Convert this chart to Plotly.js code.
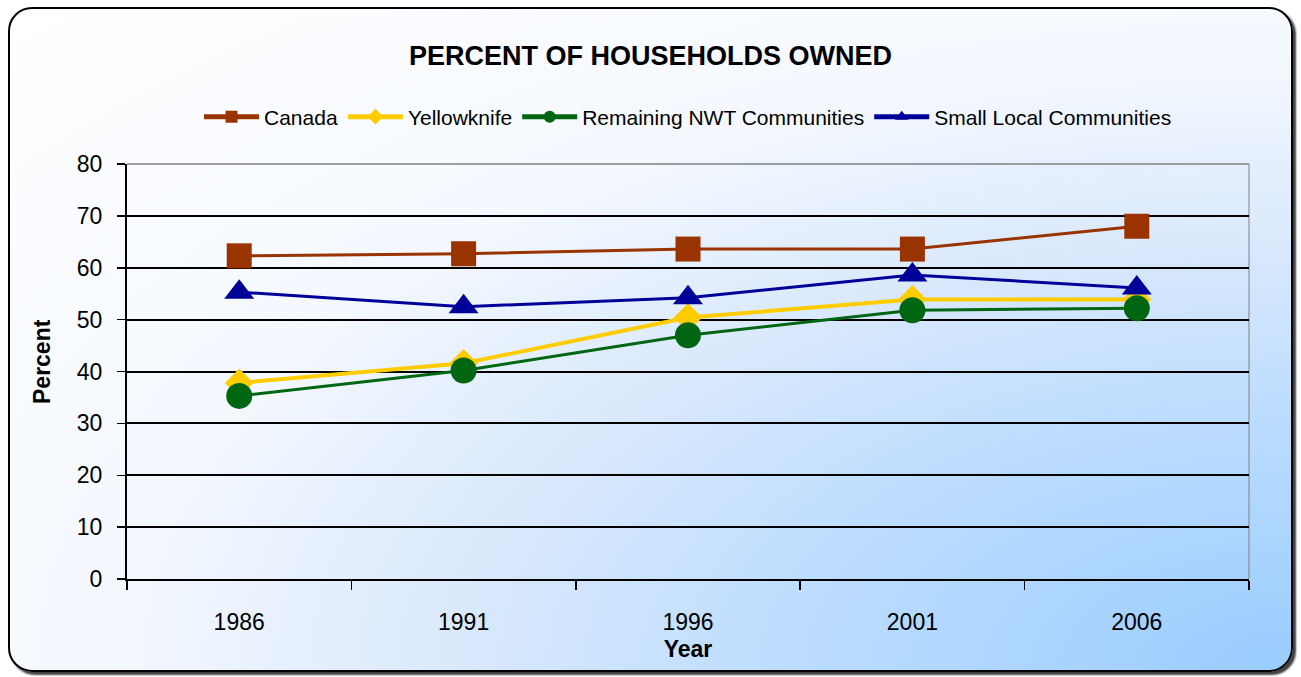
<!DOCTYPE html>
<html>
<head>
<meta charset="utf-8">
<script src="https://cdn.plot.ly/plotly-3.0.1.min.js"></script>
<style>
  html, body { margin: 0; padding: 0; width: 1301px; height: 677px; overflow: hidden; background: #ffffff; }
  #card {
    position: absolute; left: 8px; top: 7px; width: 1281px; height: 661px;
    border: 2px solid #000; border-radius: 24px;
    box-shadow: 3px 3px 2px rgba(0,0,0,0.75);
    background: radial-gradient(ellipse farthest-corner at 100% 100%, #99ccff 0%, #b9dbff 25%, #d8e8fc 45%, #f4f8fe 65%, #ffffff 100%);
  }
  #chart { position: absolute; left: 0; top: 0; width: 1301px; height: 677px; }
</style>
</head>
<body>
<div id="card"></div>
<div id="chart"></div>
<script>
const years = ['1986', '1991', '1996', '2001', '2006'];
const canada = [62.3, 62.7, 63.6, 63.6, 68.0];
const yellowknife = [37.8, 41.6, 50.4, 53.9, 53.9];
const remainingNWT = [35.3, 40.2, 47.0, 51.8, 52.2];
const smallLocal = [55.3, 52.5, 54.2, 58.6, 56.1];

const FONT = 'Liberation Sans, Arial, sans-serif';

const traces = [
  { name: 'Canada', x: years, y: canada, type: 'scatter', mode: 'lines+markers',
    line: { color: '#993300', width: 3 },
    marker: { symbol: 'square', size: 25, color: '#993300', line: { width: 0 } } },
  { name: 'Yellowknife', x: years, y: yellowknife, type: 'scatter', mode: 'lines+markers',
    line: { color: '#FFCC00', width: 4 },
    marker: { symbol: 'diamond', size: 22, color: '#FFCC00', line: { width: 0 } } },
  { name: 'Remaining NWT Communities', x: years, y: remainingNWT, type: 'scatter', mode: 'lines+markers',
    line: { color: '#006611', width: 3 },
    marker: { symbol: 'circle', size: 26, color: '#006611', line: { width: 0 } } },
  { name: 'Small Local Communities', x: years, y: smallLocal, type: 'scatter', mode: 'lines+markers',
    line: { color: '#000099', width: 3 },
    marker: { symbol: 'triangle-up', size: 26, color: '#000099', line: { width: 0 } } }
];

const layout = {
  width: 1301, height: 677,
  margin: { l: 127, r: 52, t: 164, b: 98 },
  paper_bgcolor: 'rgba(0,0,0,0)',
  plot_bgcolor: 'rgba(0,0,0,0)',
  font: { family: FONT, color: '#000' },
  title: { text: '<b>PERCENT OF HOUSEHOLDS OWNED</b>', font: { family: FONT, size: 27, color: '#000' },
           x: 0.5, xref: 'container', y: 1 - 56/677, yref: 'container', yanchor: 'middle' },
  showlegend: true,
  legend: { orientation: 'h', x: 0.5, xanchor: 'center', y: 1 + (164-117)/415, yanchor: 'middle',
            font: { family: FONT, size: 21, color: '#000' }, itemsizing: 'constant', itemwidth: 55,
            bgcolor: 'rgba(0,0,0,0)' },
  xaxis: {
    type: 'category', range: [-0.5, 4.5], tickson: 'boundaries', ticks: 'outside', ticklen: 9, tickwidth: 1.5, tickcolor: '#000',
    showline: true, linecolor: '#000', linewidth: 2, showgrid: false, zeroline: false,
    tickfont: { family: FONT, size: 23, color: '#000' }, ticklabelstandoff: 21,
    title: { text: '<b>Year</b>', font: { family: FONT, size: 23, color: '#000' }, standoff: 7 }
  },
  yaxis: {
    range: [0, 80], dtick: 10, ticks: 'outside', ticklen: 8, tickwidth: 1.5, tickcolor: '#000',
    showline: true, linecolor: '#000', linewidth: 2, showgrid: true, gridcolor: '#000', gridwidth: 2,
    zeroline: false, tickfont: { family: FONT, size: 23, color: '#000' }, ticklabelstandoff: 10
  },
  annotations: [
    { text: '<b>Percent</b>', textangle: -90, xref: 'paper', yref: 'paper',
      x: (42 - 127) / 1122, y: (579 - 362) / 415, xanchor: 'center', yanchor: 'middle',
      showarrow: false, font: { family: FONT, size: 23, color: '#000' } }
  ],
  shapes: [
    { type: 'line', xref: 'paper', yref: 'paper', x0: 0, x1: 1, y0: 1, y1: 1, line: { color: '#808080', width: 1.5 }, layer: 'below' },
    { type: 'line', xref: 'paper', yref: 'paper', x0: 1, x1: 1, y0: 0, y1: 1, line: { color: '#808080', width: 1 }, layer: 'below' }
  ]
};

Plotly.newPlot('chart', traces, layout, { displayModeBar: false, staticPlot: true });
</script>
</body>
</html>
